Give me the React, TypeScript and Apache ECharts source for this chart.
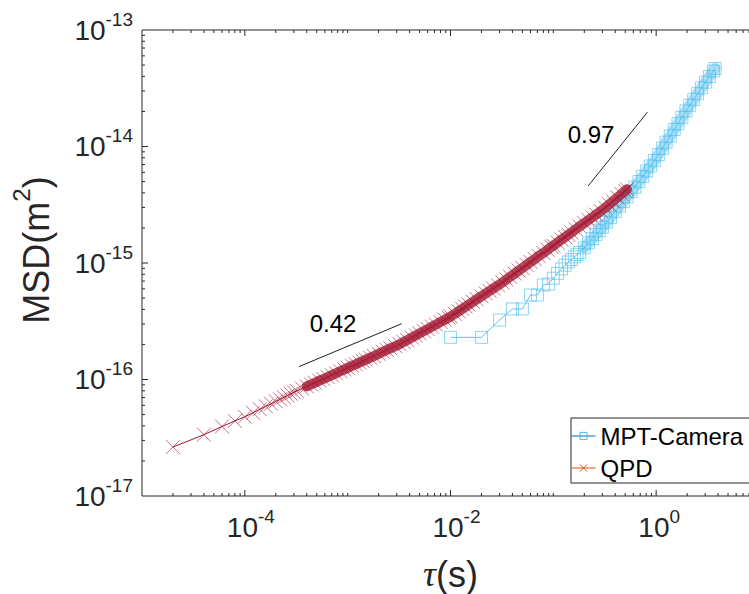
import React, { useEffect, useRef } from 'react';
import * as echarts from 'echarts';

const X_MIN = 1e-5;
const X_MAX = 10;
const Y_MIN = 1e-17;
const Y_MAX = 1e-13;

// QPD: lag time (s) and MSD (m^2)
const qpdTau = [
  2e-5, 4e-5, 6e-5, 8e-5, 1e-4, 1.2e-4, 1.4e-4, 1.6e-4, 1.8e-4, 2e-4, 2.2e-4, 2.4e-4, 2.6e-4, 2.8e-4, 3e-4,
  3.2e-4, 3.6e-4, 4e-4, 4.4e-4, 4.8e-4, 5.3e-4, 5.8e-4, 6.4e-4, 7e-4, 7.7e-4, 8.5e-4, 9.3e-4,
  1e-3, 1.1e-3, 1.2e-3, 1.3e-3, 1.4e-3, 1.5e-3, 1.65e-3, 1.8e-3, 2e-3, 2.2e-3, 2.4e-3, 2.6e-3, 2.9e-3, 3.2e-3, 3.5e-3, 3.8e-3, 4.2e-3, 4.6e-3, 5e-3, 5.5e-3, 6e-3, 6.6e-3, 7.2e-3, 8e-3, 8.8e-3, 9.6e-3,
  0.01, 0.011, 0.012, 0.013, 0.014, 0.015, 0.0165, 0.018, 0.02, 0.022, 0.024, 0.026, 0.029, 0.032, 0.035, 0.038, 0.042, 0.046, 0.05, 0.055, 0.06, 0.066, 0.072, 0.08, 0.088, 0.096,
  0.1, 0.11, 0.12, 0.13, 0.14, 0.15, 0.165, 0.18, 0.2, 0.22, 0.24, 0.26, 0.29, 0.32, 0.35, 0.38, 0.42, 0.46, 0.5, 0.52,
];
const qpdMsd = [
  2.63e-17, 3.36e-17, 3.95e-17, 4.41e-17, 4.79e-17, 5.19e-17, 5.55e-17, 5.89e-17, 6.19e-17, 6.49e-17, 6.76e-17, 7.03e-17, 7.29e-17, 7.53e-17, 7.76e-17,
  7.98e-17, 8.36e-17, 8.73e-17, 9.07e-17, 9.39e-17, 9.77e-17, 1.01e-16, 1.05e-16, 1.09e-16, 1.13e-16, 1.18e-16, 1.22e-16,
  1.26e-16, 1.31e-16, 1.35e-16, 1.4e-16, 1.44e-16, 1.48e-16, 1.54e-16, 1.59e-16, 1.66e-16, 1.73e-16, 1.79e-16, 1.85e-16, 1.93e-16, 2.01e-16, 2.1e-16, 2.18e-16, 2.29e-16, 2.39e-16, 2.49e-16, 2.6e-16, 2.71e-16, 2.84e-16, 2.96e-16, 3.12e-16, 3.26e-16, 3.4e-16,
  3.47e-16, 3.66e-16, 3.85e-16, 4.04e-16, 4.21e-16, 4.39e-16, 4.64e-16, 4.88e-16, 5.18e-16, 5.48e-16, 5.76e-16, 6.04e-16, 6.43e-16, 6.81e-16, 7.22e-16, 7.61e-16, 8.11e-16, 8.6e-16, 9.07e-16, 9.64e-16, 1.02e-15, 1.08e-15, 1.15e-15, 1.22e-15, 1.3e-15, 1.38e-15,
  1.41e-15, 1.5e-15, 1.59e-15, 1.67e-15, 1.75e-15, 1.83e-15, 1.95e-15, 2.06e-15, 2.2e-15, 2.34e-15, 2.47e-15, 2.6e-15, 2.79e-15, 2.98e-15, 3.19e-15, 3.39e-15, 3.65e-15, 3.91e-15, 4.16e-15, 4.29e-15,
];

// MPT-Camera: lag time (s) and MSD (m^2)
const camTau = [
  0.01, 0.02, 0.03, 0.04, 0.05, 0.06, 0.07, 0.08, 0.09, 0.1,
  0.11, 0.12, 0.13, 0.14, 0.15, 0.16, 0.17, 0.18,
  0.2, 0.22, 0.24, 0.26, 0.28, 0.3,
  0.33, 0.36, 0.4, 0.44, 0.48, 0.52,
  0.57, 0.62, 0.68, 0.74, 0.81, 0.88, 0.96,
  1.05, 1.15, 1.25, 1.37, 1.5, 1.63, 1.78, 1.95,
  2.12, 2.32, 2.53, 2.76, 3.01, 3.29, 3.6, 3.75,
];
const camMsd = [
  2.3e-16, 2.3e-16, 3.24e-16, 4.03e-16, 4.03e-16, 5.31e-16, 5.31e-16, 6.47e-16, 6.6e-16, 7.4e-16,
  8.15e-16, 8.9e-16, 9.57e-16, 1.02e-15, 1.07e-15, 1.13e-15, 1.18e-15, 1.23e-15,
  1.35e-15, 1.49e-15, 1.62e-15, 1.76e-15, 1.89e-15, 2.03e-15,
  2.24e-15, 2.47e-15, 2.77e-15, 3.08e-15, 3.38e-15, 3.69e-15,
  4.09e-15, 4.48e-15, 5.0e-15, 5.53e-15, 6.17e-15, 6.81e-15, 7.57e-15,
  8.51e-15, 9.66e-15, 1.09e-14, 1.23e-14, 1.4e-14, 1.57e-14, 1.78e-14, 2.02e-14,
  2.26e-14, 2.54e-14, 2.84e-14, 3.19e-14, 3.57e-14, 3.99e-14, 4.44e-14, 4.67e-14,
];

// Slope guide lines
const guide042 = [[3.36e-4, 1.29e-16], [3.35e-3, 3.01e-16]];
const guide097 = [[0.218, 4.58e-15], [0.822, 1.97e-14]];
const guideLabels = ['0.42', '0.97'];

// Axis tick values
const xMajorTicks = [1e-4, 1e-2, 1];
const xDecades = [-5, -4, -3, -2, -1, 0];
const xOddDecades = [1e-3, 1e-1];
const yMajorTicks = [1e-16, 1e-15, 1e-14];
const yDecades = [-17, -16, -15, -14];
const minorMultipliers = [2, 3, 4, 5, 6, 7, 8, 9];

const AXIS_COLOR = '#262626';
const FONT = "'Liberation Sans', Arial, Helvetica, sans-serif";
const CROSS = 'path://M0,0L10,10M0,10L10,0';
const SQUARE = 'path://M0,0L10,0L10,10L0,10Z';

const MAJOR_LEN = 6;
const MINOR_LEN = 3;

// canvas is wider than the window so the plot box is cut at the right like the reference
const CHART_W = 790;
const CHART_H = 594;

function buildMinor(decades: number[]) {
  const out: number[] = [];
  decades.forEach((d) => minorMultipliers.forEach((m) => out.push(m * Math.pow(10, d))));
  return out;
}

const tickRich = {
  b: { fontSize: 28, fontFamily: FONT, color: AXIS_COLOR, lineHeight: 32 },
  s: { fontSize: 19, fontFamily: FONT, color: AXIS_COLOR, lineHeight: 19, padding: [0, 0, 22, 0] },
  pn: { width: 12, lineHeight: 32 },
  pz: { width: 6, lineHeight: 32 },
};

export default function App() {
  const ref = useRef<HTMLDivElement>(null);

  useEffect(() => {
    if (!ref.current) return;
    const chart = echarts.init(ref.current, undefined, { renderer: 'svg' });

    const xTickData = [
      ...xMajorTicks.map((v) => [v, 1e-15, MAJOR_LEN]),
      ...xOddDecades.map((v) => [v, 1e-15, MINOR_LEN]),
      ...buildMinor(xDecades).map((v) => [v, 1e-15, MINOR_LEN]),
    ];
    const yTickData = [
      ...yMajorTicks.map((v) => [1e-3, v, MAJOR_LEN]),
      ...buildMinor(yDecades).map((v) => [1e-3, v, MINOR_LEN]),
    ];

    const tickStyle = { stroke: AXIS_COLOR, lineWidth: 1 };
    const qpdPairs = qpdTau.map((t, i) => [t, qpdMsd[i]]);
    const camPairs = camTau.map((t, i) => [t, camMsd[i]]);

    const option: any = {
      animation: false,
      backgroundColor: '#fff',
      grid: {
        left: 142,
        top: 30,
        right: CHART_W - 759,
        bottom: 98,
        show: true,
        borderColor: AXIS_COLOR,
        borderWidth: 1,
        backgroundColor: 'transparent',
        outerBoundsMode: 'none',
        containLabel: false,
      },
      xAxis: {
        type: 'log',
        logBase: 10,
        min: X_MIN,
        max: X_MAX,
        axisLine: { show: false },
        axisTick: { show: false },
        splitLine: { show: false },
        axisLabel: {
          margin: 15,
          formatter: (v: number) => {
            const e = Math.round(Math.log10(v));
            if (e % 2 !== 0) return '';
            return `{${e < 0 ? 'pn' : 'pz'}| }{b|10}{s|${e}}`;
          },
          rich: tickRich,
        },
        name: '{i|τ}{b|(s)}',
        nameLocation: 'middle',
        nameGap: 56,
        nameTextStyle: {
          rich: {
            i: { fontSize: 36, fontFamily: "'Liberation Serif', 'DejaVu Serif', serif", fontStyle: 'italic', color: AXIS_COLOR, lineHeight: 44 },
            b: { fontSize: 36, fontFamily: FONT, color: AXIS_COLOR, lineHeight: 44 },
          },
        },
      },
      yAxis: {
        type: 'log',
        logBase: 10,
        min: Y_MIN,
        max: Y_MAX,
        axisLine: { show: false },
        axisTick: { show: false },
        splitLine: { show: false },
        axisLabel: {
          margin: 9,
          formatter: (v: number) => `{b|10}{s|${Math.round(Math.log10(v))}}`,
          rich: tickRich,
        },
        name: '{b|MSD(m}{s|2}{b|)}',
        nameLocation: 'middle',
        nameGap: 66,
        nameTextStyle: {
          padding: [0, 0, 0, 26],
          rich: {
            b: { fontSize: 36, fontFamily: FONT, color: AXIS_COLOR, lineHeight: 44 },
            s: { fontSize: 24, fontFamily: FONT, color: AXIS_COLOR, lineHeight: 24, padding: [0, 0, 30, 0] },
          },
        },
      },
      legend: {
        orient: 'vertical',
        left: 571,
        top: 418,
        padding: [4, 40, 1, 0],
        itemWidth: 24,
        itemHeight: 9,
        itemGap: 4,
        borderColor: AXIS_COLOR,
        borderWidth: 1,
        borderRadius: 0,
        backgroundColor: '#fff',
        selectedMode: false,
        textStyle: { fontFamily: FONT, fontSize: 24, color: '#000', lineHeight: 28 },
        data: [
          {
            name: 'MPT-Camera',
            itemStyle: { color: 'rgba(0,0,0,0)', borderColor: '#4DBEEE', borderWidth: 1 },
            lineStyle: { color: '#0072BD', width: 1 },
          },
          {
            name: 'QPD',
            itemStyle: { color: 'rgba(0,0,0,0)', borderColor: '#D95319', borderWidth: 1 },
            lineStyle: { color: '#D95319', width: 1 },
          },
        ],
      },
      series: [
        {
          type: 'line',
          data: camPairs.slice(18),
          symbol: 'none',
          lineStyle: { color: 'rgba(77,190,238,0.5)', width: 11, cap: 'round', join: 'round' },
          silent: true,
          z: 1,
        },
        {
          name: 'MPT-Camera',
          type: 'line',
          data: camPairs,
          symbol: SQUARE,
          symbolSize: 12,
          showAllSymbol: true,
          itemStyle: { color: 'rgba(77,190,238,0)', borderColor: 'rgba(77,190,238,0.65)', borderWidth: 1 },
          lineStyle: { color: 'rgba(77,190,238,0.9)', width: 1 },
          emphasis: { disabled: true },
          silent: true,
          z: 2,
        },
        {
          type: 'line',
          data: qpdPairs.slice(17),
          symbol: 'none',
          lineStyle: { color: 'rgba(162,20,47,0.8)', width: 10, cap: 'round', join: 'round' },
          silent: true,
          z: 3,
        },
        {
          name: 'QPD',
          type: 'line',
          data: qpdPairs,
          symbol: CROSS,
          symbolSize: 14,
          showAllSymbol: true,
          itemStyle: { color: 'rgba(162,20,47,0)', borderColor: 'rgba(162,20,47,0.6)', borderWidth: 1 },
          lineStyle: { color: '#A2142F', width: 1 },
          emphasis: { disabled: true },
          silent: true,
          z: 4,
        },
        {
          type: 'line',
          data: guide042,
          symbol: 'none',
          lineStyle: { color: '#222', width: 1 },
          silent: true,
          z: 5,
        },
        {
          type: 'line',
          data: guide097,
          symbol: 'none',
          lineStyle: { color: '#222', width: 1 },
          silent: true,
          z: 5,
        },
        {
          type: 'custom',
          coordinateSystem: 'cartesian2d',
          silent: true,
          clip: false,
          z: 6,
          encode: { x: 0, y: 1 },
          data: xTickData,
          renderItem: (params: any, api: any) => {
            const v = api.value(0);
            const len = api.value(2);
            const b = api.coord([v, Y_MIN]);
            const t = api.coord([v, Y_MAX]);
            return {
              type: 'group',
              children: [
                { type: 'line', shape: { x1: b[0], y1: b[1], x2: b[0], y2: b[1] - len }, style: tickStyle },
                { type: 'line', shape: { x1: t[0], y1: t[1], x2: t[0], y2: t[1] + len }, style: tickStyle },
              ],
            };
          },
        },
        {
          type: 'custom',
          coordinateSystem: 'cartesian2d',
          silent: true,
          clip: false,
          z: 6,
          encode: { x: 0, y: 1 },
          data: yTickData,
          renderItem: (params: any, api: any) => {
            const v = api.value(1);
            const len = api.value(2);
            const l = api.coord([X_MIN, v]);
            return {
              type: 'line',
              shape: { x1: l[0], y1: l[1], x2: l[0] + len, y2: l[1] },
              style: tickStyle,
            };
          },
        },
      ],
      graphic: [
        {
          type: 'text',
          x: 333,
          y: 323,
          style: { text: guideLabels[0], fontSize: 24, fontFamily: FONT, fill: '#000', align: 'center', verticalAlign: 'middle' },
        },
        {
          type: 'text',
          x: 591,
          y: 134,
          style: { text: guideLabels[1], fontSize: 24, fontFamily: FONT, fill: '#000', align: 'center', verticalAlign: 'middle' },
        },
      ],
    };

    chart.setOption(option);
    return () => chart.dispose();
  }, []);

  return (
    <div style={{ position: 'fixed', left: 0, top: 0, width: 749, height: 594, overflow: 'hidden', background: '#fff' }}>
      <div ref={ref} style={{ width: CHART_W, height: CHART_H }} />
    </div>
  );
}
